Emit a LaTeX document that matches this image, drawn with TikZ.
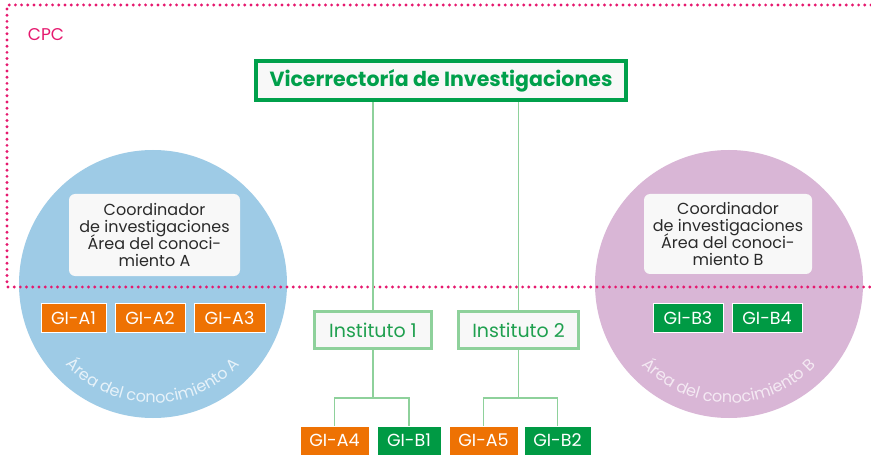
\documentclass[tikz,border=0pt]{standalone}
\usepackage{fontspec}
\setmainfont{Poppins}
\usetikzlibrary{decorations.text}
\definecolor{greenV}{HTML}{00A04B}
\definecolor{greenB}{HTML}{009A44}
\definecolor{lightG}{HTML}{8ED19B}
\definecolor{instText}{HTML}{1FA04F}
\definecolor{orangeA}{HTML}{EE7203}
\definecolor{blueC}{HTML}{9ECBE6}
\definecolor{pinkC}{HTML}{D9B6D6}
\definecolor{boxfill}{HTML}{F8F8F8}
\definecolor{pinkD}{HTML}{E6186E}
\definecolor{textdark}{HTML}{2A2A2A}
\newcommand\mytightlines{\lineskiplimit=-20pt\relax}
\begin{document}
\begin{tikzpicture}[x=1pt,y=1pt,
  gi/.style={draw=white, line width=0.8pt, text=white, minimum height=29pt, inner sep=0pt, font=\fontsize{17.5}{17.5}\selectfont},
  gia/.style={gi, fill=orangeA},
  gib/.style={gi, fill=greenB},
  inst/.style={draw=lightG, line width=3pt, fill=boxfill, text=instText, minimum height=37pt, inner sep=0pt, font=\fontsize{19}{19}\selectfont},
  coordbox/.style={fill=boxfill, rounded corners=6pt, inner sep=0pt, align=center, font=\fontsize{16}{17}\selectfont\mytightlines, text=textdark},
  conn/.style={draw=lightG, line width=1.5pt},
  area/.style={circle, inner sep=0pt, minimum size=268pt}
]
\useasboundingbox (0,0) rectangle (871,456);
\fill[white] (0,0) rectangle (871,456);
% circles
\node[area, fill=blueC] (circA) at (153,172) {};
\node[area, fill=pinkC] (circB) at (729,172) {};
\path[decorate, decoration={text along path, text align=center,
  text={|\fontsize{16}{16}\selectfont\color{white!75!blueC}|Área del conocimiento A}}]
  (circA.center) ++(195:119) arc[start angle=195, end angle=345, radius=119];
\path[decorate, decoration={text along path, text align=center,
  text={|\fontsize{16}{16}\selectfont\color{white!70!pinkC}|Área del conocimiento B}}]
  (circB.center) ++(195:119) arc[start angle=195, end angle=345, radius=119];
% CPC region
\draw[pinkD, line width=3.2pt, line cap=round, dash pattern=on 0pt off 6.2pt]
  (871,451) -- (7,451) -- (7,169) -- (871,169);
\node[text=pinkD, font=\fontsize{17}{17}\selectfont] (cpc) at (46,421) {CPC};
% coordinators
\node[coordbox, minimum width=171pt, minimum height=82pt] (coA) at (154.5,221)
  {Coordinador\\de investigaciones\\Área del conoci-\\miento A};
\node[coordbox, minimum width=168pt, minimum height=80pt] (coB) at (728,222)
  {Coordinador\\de investigaciones\\Área del conoci-\\miento B};
% GI groups in circles
\node[gia, minimum width=65pt] (a1) at (73.5,138) {GI-A1};
\node[gia, minimum width=70pt] (a2) at (150,138) {GI-A2};
\node[gia, minimum width=71pt] (a3) at (229.5,138) {GI-A3};
\node[gib, minimum width=70pt] (b3) at (688,138) {GI-B3};
\node[gib, minimum width=70pt] (b4) at (767,138) {GI-B4};
% VR
\node[draw=greenV, line width=4pt, fill=boxfill, minimum width=370pt, minimum height=39pt,
  inner sep=0pt, text=greenV, font=\bfseries\fontsize{20.5}{20.5}\selectfont] (vr) at (441,375.5)
  {Vicerrectoría de Investigaciones};
% institutes
\node[inst, minimum width=117pt] (i1) at (373,126) {Instituto 1};
\node[inst, minimum width=120pt] (i2) at (518.5,126) {Instituto 2};
% bottom GIs
\node[gia, minimum width=69pt] (a4) at (334.5,15.5) {GI-A4};
\node[gib, minimum width=64pt] (b1) at (409,15.5) {GI-B1};
\node[gia, minimum width=69pt] (a5) at (483.5,15.5) {GI-A5};
\node[gib, minimum width=67pt] (b2) at (557.5,15.5) {GI-B2};
% connectors
\draw[conn] (i1.north) -- (i1.north |- vr.south);
\draw[conn] (i2.north) -- (i2.north |- vr.south);
\draw[conn] (i1.south) -- ++(0,-48) coordinate (j1) -| (a4.north);
\draw[conn] (j1) -| (b1.north);
\draw[conn] (i2.south) -- ++(0,-48) coordinate (j2) -| (a5.north);
\draw[conn] (j2) -| (b2.north);
\end{tikzpicture}
\end{document}
